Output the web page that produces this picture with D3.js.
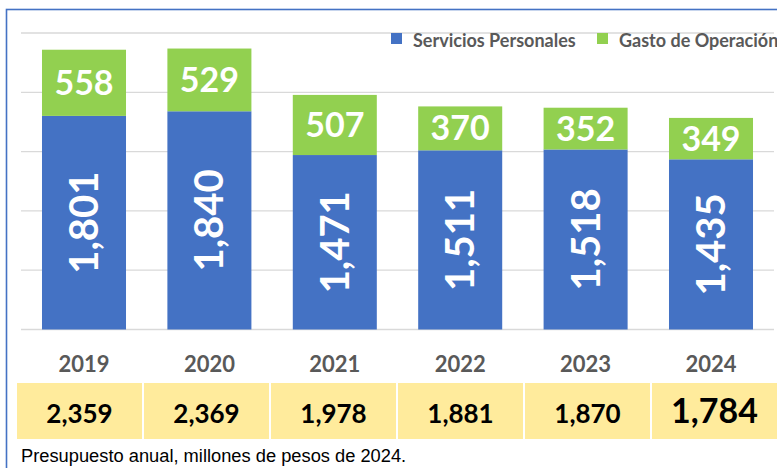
<!DOCTYPE html>
<html>
<head>
<meta charset="utf-8">
<script src="https://cdn.jsdelivr.net/npm/d3@7"></script>
<style>
  body { margin: 0; background: #fff; }
  svg { display: block; }
</style>
</head>
<body>
<div id="chart"></div>
<script>
// chart data
const years = ["2019", "2020", "2021", "2022", "2023", "2024"];
const servicios = [1801, 1840, 1471, 1511, 1518, 1435];
const gasto = [558, 529, 507, 370, 352, 349];
const totals = [2359, 2369, 1978, 1881, 1870, 1784];
const gridTicks = [0, 500, 1000, 1500, 2000, 2500];
const seriesNames = ["Servicios Personales", "Gasto de Operación"];

const width = 777, height = 468;
const BLUE = "#4472C4", GREEN = "#92D050", YELLOW = "#FFEB9C";
const FONT = "Lato, 'Open Sans', sans-serif";
const fmt = d3.format(",");

let svg = d3.select("#chart").append("svg")
  .attr("width", width)
  .attr("height", height);

// outer frame (top + left edges visible)
svg.append("rect")
  .attr("x", 6.5).attr("y", 9.5)
  .attr("width", 800).attr("height", 500)
  .attr("fill", "none")
  .attr("stroke", BLUE)
  .attr("stroke-width", 1.6);

let x = d3.scaleBand()
  .domain(years)
  .range([21.3, 773.7])
  .paddingInner(0.33)
  .paddingOuter(0.165);

let y = d3.scaleLinear()
  .domain([0, 2500])
  .range([329.5, 33]);

// gridlines
svg.append("g")
  .selectAll("line")
  .data(gridTicks)
  .enter()
  .append("line")
  .attr("x1", 21).attr("x2", 774)
  .attr("y1", d => y(d)).attr("y2", d => y(d))
  .attr("stroke", "#D9D9D9")
  .attr("stroke-width", 1.3);

let rows = years.map((yr, i) => ({year: yr, s: servicios[i], g: gasto[i], t: totals[i]}));

// stacked bars
let bars = svg.append("g");
bars.selectAll("rect.serv")
  .data(rows)
  .enter()
  .append("rect")
  .attr("class", "serv")
  .attr("x", d => x(d.year))
  .attr("width", x.bandwidth())
  .attr("y", d => y(d.s))
  .attr("height", d => y(0) - y(d.s))
  .attr("fill", BLUE);

bars.selectAll("rect.gasto")
  .data(rows)
  .enter()
  .append("rect")
  .attr("class", "gasto")
  .attr("x", d => x(d.year))
  .attr("width", x.bandwidth())
  .attr("y", d => y(d.s + d.g))
  .attr("height", d => y(d.s) - y(d.s + d.g))
  .attr("fill", GREEN);

// rotated labels in blue segments
bars.selectAll("text.serv")
  .data(rows)
  .enter()
  .append("text")
  .attr("class", "serv")
  .attr("transform", d => `translate(${x(d.year) + x.bandwidth() / 2 + 14}, ${(y(0) + y(d.s)) / 2}) rotate(-90)`)
  .style("text-anchor", "middle")
  .style("font-family", FONT)
  .style("font-weight", "bold")
  .style("font-size", "40px")
  .attr("fill", "#fff")
  .text(d => fmt(d.s));

// labels in green segments
bars.selectAll("text.gasto")
  .data(rows)
  .enter()
  .append("text")
  .attr("class", "gasto")
  .attr("x", d => x(d.year) + x.bandwidth() / 2)
  .attr("y", d => (y(d.s) + y(d.s + d.g)) / 2 + 12)
  .style("text-anchor", "middle")
  .style("font-family", FONT)
  .style("font-weight", "bold")
  .style("font-size", "34px")
  .attr("fill", "#fff")
  .text(d => d.g);

// year labels
svg.append("g")
  .selectAll("text")
  .data(years)
  .enter()
  .append("text")
  .attr("x", d => x(d) + x.bandwidth() / 2)
  .attr("y", 372)
  .style("text-anchor", "middle")
  .style("font-family", FONT)
  .style("font-weight", "bold")
  .style("font-size", "22px")
  .attr("fill", "#595959")
  .text(d => d);

// totals table
let cell = d3.scaleBand()
  .domain(years)
  .range([17, 779]);

let table = svg.append("g");
table.selectAll("rect")
  .data(rows)
  .enter()
  .append("rect")
  .attr("x", d => cell(d.year))
  .attr("width", cell.bandwidth() - 2)
  .attr("y", 383)
  .attr("height", 56)
  .attr("fill", YELLOW);

table.selectAll("text")
  .data(rows)
  .enter()
  .append("text")
  .attr("x", d => cell(d.year) + cell.bandwidth() / 2 - 1)
  .attr("y", 423)
  .style("text-anchor", "middle")
  .style("font-family", FONT)
  .style("font-weight", "bold")
  .style("font-size", (d, i) => i === rows.length - 1 ? "34px" : "26px")
  .attr("fill", "#000")
  .text(d => fmt(d.t));

// legend
let legend = svg.append("g");
let legendX = [391, 597];
[BLUE, GREEN].forEach(function(c, i) {
  legend.append("rect")
    .attr("x", legendX[i]).attr("y", 33)
    .attr("width", 11).attr("height", 11)
    .attr("fill", c);
  legend.append("text")
    .attr("x", legendX[i] + 22)
    .attr("y", 46.5)
    .style("font-family", FONT)
    .style("font-weight", "bold")
    .style("font-size", "18px")
    .attr("fill", "#595959")
    .text(seriesNames[i]);
});

// footnote
svg.append("text")
  .attr("x", 21)
  .attr("y", 462)
  .style("font-family", "'Liberation Sans', Arial, sans-serif")
  .style("font-size", "18.3px")
  .attr("fill", "#000")
  .text("Presupuesto anual, millones de pesos de 2024.");
</script>
</body>
</html>
